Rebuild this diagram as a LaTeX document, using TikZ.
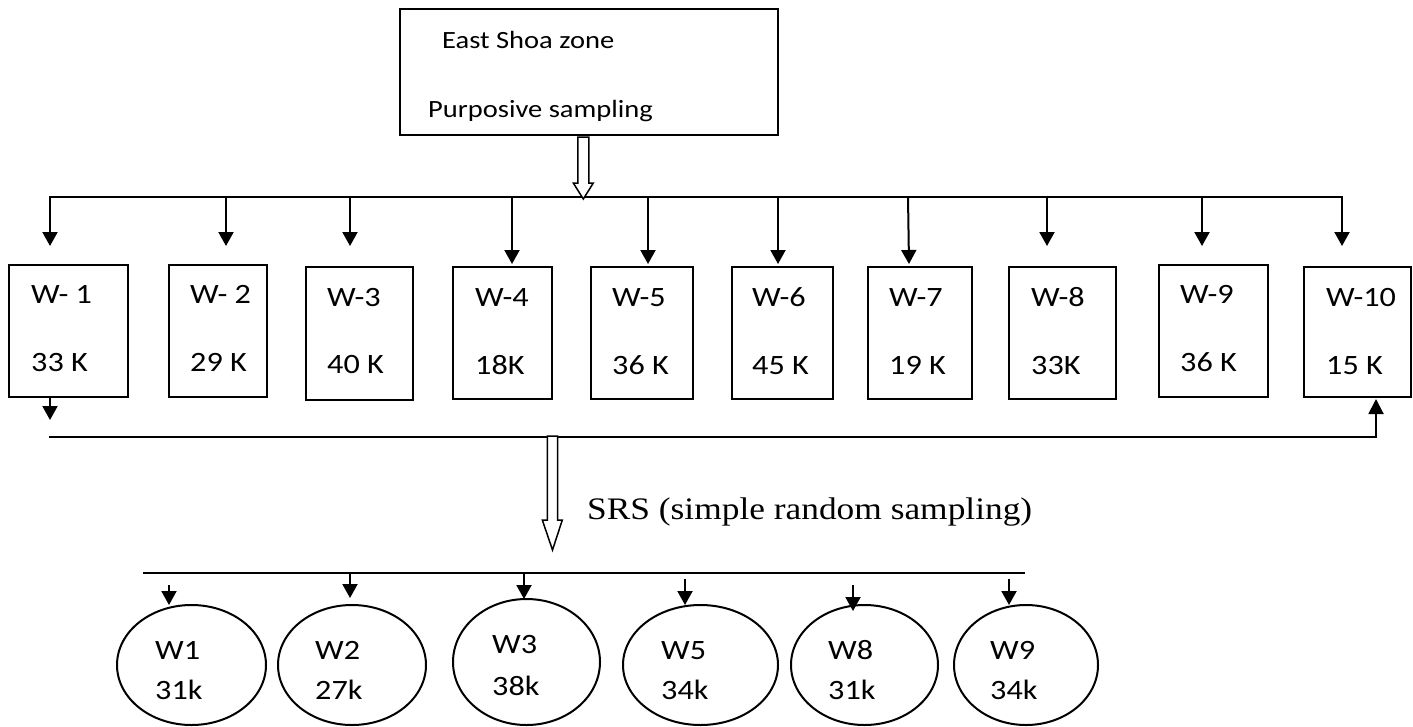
\documentclass[tikz,border=0pt]{standalone}
\usepackage{fontspec}
\setmainfont[FakeStretch=1.15]{Carlito}
\newfontfamily\srsfont[FakeStretch=1.13]{Liberation Serif}
\usetikzlibrary{shapes.geometric,arrows.meta}

\tikzset{
  boxline/.style={draw, line width=2pt, inner sep=0pt},
  wbox/.style={boxline, rectangle, minimum height=132pt},
  wcirc/.style={boxline, ellipse, minimum height=120pt},
  txt/.style={anchor=base west, inner sep=0pt, font=\fontsize{28}{34}\selectfont},
  toptxt/.style={anchor=base west, inner sep=0pt, font=\fontsize{24.8}{30}\selectfont},
  arr/.style={line width=2pt, -{Triangle[width=15pt,length=14pt]}},
  bus/.style={line width=2pt},
  hollow/.style={draw, fill=white, line width=1.5pt, line join=miter}
}

\begin{document}
\begin{tikzpicture}[x=1pt,y=-1pt]
\useasboundingbox (0,0) rectangle (1413,726);

% zone box
\node[boxline, minimum width=378pt, minimum height=126pt] (zone) at (589,72) {};
\node[toptxt] (zoneA) at (442,48) {East Shoa zone};
\node[toptxt] (zoneB) at (428,117) {Purposive sampling};

% woreda boxes
\node[wbox, minimum width=119pt] (w1) at (68.5,331) {};
\node[wbox, minimum width=98pt] (w2) at (218,331) {};
\node[wbox, minimum width=107pt, minimum height=133pt] (w3) at (359.5,333.5) {};
\node[wbox, minimum width=99pt] (w4) at (502.5,333) {};
\node[wbox, minimum width=102pt] (w5) at (642,333) {};
\node[wbox, minimum width=101pt] (w6) at (782.5,333) {};
\node[wbox, minimum width=104pt] (w7) at (920,333) {};
\node[wbox, minimum width=107pt] (w8) at (1062.5,333) {};
\node[wbox, minimum width=109pt] (w9) at (1213.5,331) {};
\node[wbox, minimum width=107pt, minimum height=130pt] (w10) at (1357.5,332) {};

\node[txt] (n1)  at (31,303)  {W- 1};  \node[txt] (k1)  at (31,371)  {33 K};
\node[txt] (n2)  at (190,303) {W- 2};  \node[txt] (k2)  at (190,371) {29 K};
\node[txt] (n3)  at (327,306) {W-3};   \node[txt] (k3)  at (327,373) {40 K};
\node[txt] (n4)  at (475,306) {W-4};   \node[txt] (k4)  at (475,374) {18K};
\node[txt] (n5)  at (612,306) {W-5};   \node[txt] (k5)  at (612,374) {36 K};
\node[txt] (n6)  at (752,306) {W-6};   \node[txt] (k6)  at (752,374) {45 K};
\node[txt] (n7)  at (889,306) {W-7};   \node[txt] (k7)  at (889,374) {19 K};
\node[txt] (n8)  at (1031,306) {W-8};  \node[txt] (k8)  at (1031,374) {33K};
\node[txt] (n9)  at (1180,303) {W-9};  \node[txt] (k9)  at (1180,371) {36 K};
\node[txt] (n10) at (1326,306) {W-10}; \node[txt] (k10) at (1326,374) {15 K};

% distribution bus below the zone box
\coordinate (b1) at (50,197);   \coordinate (t1) at (50,246);
\coordinate (b2) at (226,197);  \coordinate (t2) at (226,246);
\coordinate (b3) at (350,197);  \coordinate (t3) at (350,246);
\coordinate (b4) at (512,197);  \coordinate (t4) at (512,264);
\coordinate (b5) at (648,197);  \coordinate (t5) at (648,264);
\coordinate (b6) at (778,197);  \coordinate (t6) at (778,264);
\coordinate (b7) at (908,197);  \coordinate (t7) at (909,264);
\coordinate (b8) at (1047,197); \coordinate (t8) at (1047,246);
\coordinate (b9) at (1202,197); \coordinate (t9) at (1202,246);
\coordinate (b10) at (1342,197); \coordinate (t10) at (1342,246);

\draw[line width=2pt, line join=miter,
  {Triangle[width=15pt,length=14pt]}-{Triangle[width=15pt,length=14pt]}]
  (t1) -- (b1) -- (b10) -- (t10);
\foreach \i in {2,...,9} { \draw[arr] (b\i) -- (t\i); }

% hollow arrow from the zone box
\draw[hollow] (577.8,137) -- (588.8,137) -- (588.8,183) -- (593.3,183)
  -- (583.3,199) -- (573.3,183) -- (577.8,183) -- cycle;

% collecting line under the woredas
\coordinate (lx) at (50,420);
\coordinate (la) at (49,437);
\coordinate (lb) at (1376,437);
\coordinate (lt) at (1376,399);
\draw[arr] (w1.south -| lx) -- (lx);
\draw[line width=2pt, line join=miter, -{Triangle[width=15pt,length=15pt]}]
  (la) -- (lb) -- (lt);

% second hollow arrow
\draw[hollow] (547.3,436) -- (557.7,436) -- (557.7,520) -- (562.3,520)
  -- (552.5,550) -- (542.3,520) -- (547.3,520) -- cycle;
\node[anchor=base west, inner sep=0pt, font=\srsfont\fontsize{31.3}{38}\selectfont]
  (srs) at (587,519) {SRS (simple random sampling)};

% sampled woredas
\coordinate (sa) at (143,573);
\coordinate (sb) at (1025,573);
\draw[bus] (sa) -- (sb);

\node[wcirc, minimum width=149pt] (e1) at (191.5,665) {};
\node[wcirc, minimum width=148pt] (e2) at (352,665) {};
\node[wcirc, minimum width=147pt, minimum height=126pt] (e3) at (526.5,662) {};
\node[wcirc, minimum width=155pt] (e5) at (700.5,665) {};
\node[wcirc, minimum width=147pt] (e8) at (864.5,665) {};
\node[wcirc, minimum width=144pt] (e9) at (1026,665) {};

\node[txt] (m1) at (155,659) {W1}; \node[txt] (c1) at (155,699) {31k};
\node[txt] (m2) at (315,659) {W2}; \node[txt] (c2) at (315,699) {27k};
\node[txt] (m3) at (492,653) {W3}; \node[txt] (c3) at (492,695) {38k};
\node[txt] (m5) at (661,659) {W5}; \node[txt] (c5) at (661,699) {34k};
\node[txt] (m8) at (828,659) {W8}; \node[txt] (c8) at (828,699) {31k};
\node[txt] (m9) at (990,659) {W9}; \node[txt] (c9) at (990,699) {34k};

\coordinate (s1) at (169,585);  \coordinate (u1) at (169,605);
\coordinate (s2) at (350,573);  \coordinate (u2) at (350,598);
\coordinate (s3) at (524,573);  \coordinate (u3) at (524,599);
\coordinate (s5) at (685,579);  \coordinate (u5) at (685,605);
\coordinate (s8) at (853,585);  \coordinate (u8) at (853,611);
\coordinate (s9) at (1009,579); \coordinate (u9) at (1009,605);
\foreach \i in {1,2,3,5,8,9} { \draw[arr] (s\i) -- (u\i); }
\end{tikzpicture}
\end{document}
